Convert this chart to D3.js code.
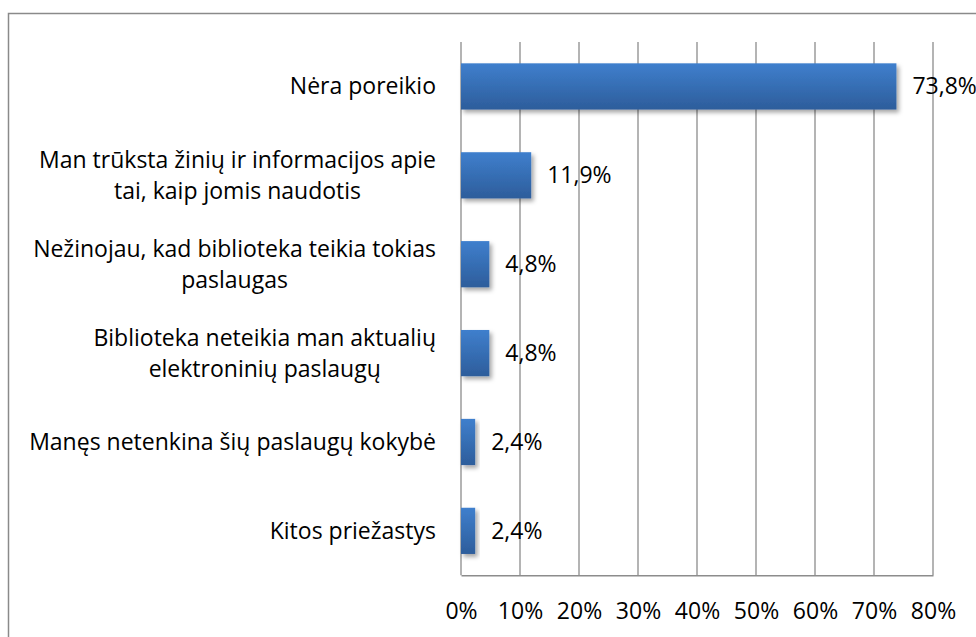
<!DOCTYPE html>
<html>
<head>
<meta charset="utf-8">
<script src="https://d3js.org/d3.v7.min.js"></script>
<style>
  body { margin:0; background:#fff; }
  svg { display:block; }
  text { font-family:"Open Sans", sans-serif; font-size:23px; fill:#000; }
</style>
</head>
<body>
<div id="chart"></div>
<script>
// data, top to bottom
var categories = [
  "Nėra poreikio",
  "Man trūksta žinių ir informacijos apie\ntai, kaip jomis naudotis",
  "Nežinojau, kad biblioteka teikia tokias\npaslaugas",
  "Biblioteka neteikia man aktualių\nelektroninių paslaugų",
  "Manęs netenkina šių paslaugų kokybė",
  "Kitos priežastys"
];
var values = [73.8, 11.9, 4.8, 4.8, 2.4, 2.4];
var ticks = [0, 10, 20, 30, 40, 50, 60, 70, 80];

var width = 976, height = 637;
var plotLeft = 461, plotRight = 933, plotTop = 42, plotBottom = 575.3;

var svg = d3.select("#chart").append("svg")
  .attr("width", width)
  .attr("height", height);

var defs = svg.append("defs");
var grad = defs.append("linearGradient")
  .attr("id", "barGrad")
  .attr("x1", 0).attr("y1", 0).attr("x2", 0).attr("y2", 1);
grad.append("stop").attr("offset", "0%").attr("stop-color", "#3f7fcd");
grad.append("stop").attr("offset", "100%").attr("stop-color", "#2d5d9b");

var shadow = defs.append("filter")
  .attr("id", "shadow")
  .attr("x", "-20%").attr("y", "-20%")
  .attr("width", "150%").attr("height", "150%");
shadow.append("feDropShadow")
  .attr("dx", 2.5).attr("dy", 3)
  .attr("stdDeviation", 2.2)
  .attr("flood-color", "#000")
  .attr("flood-opacity", 0.35);

// outer frame (runs off right and bottom edge)
svg.append("rect")
  .attr("x", 8.5).attr("y", 13.5)
  .attr("width", 1000).attr("height", 700)
  .attr("fill", "none")
  .attr("stroke", "#8a8a8a")
  .attr("stroke-width", 1.5);

var x = d3.scaleLinear().domain([0, 80]).range([plotLeft, plotRight]);
var y = d3.scaleBand().domain(categories)
  .range([plotTop, plotBottom])
  .paddingInner(0.48).paddingOuter(0.24);

// vertical gridlines
svg.append("g").selectAll("line")
  .data(ticks)
  .enter().append("line")
  .attr("x1", function(d) { return x(d); })
  .attr("x2", function(d) { return x(d); })
  .attr("y1", plotTop)
  .attr("y2", plotBottom)
  .attr("stroke", "#8c8c8c")
  .attr("stroke-width", 1.3);

// bottom axis
var xAxis = d3.axisBottom(x)
  .tickValues(ticks)
  .tickSize(0)
  .tickPadding(27)
  .tickFormat(function(d) { return d + "%"; });
var gx = svg.append("g")
  .attr("transform", "translate(0," + plotBottom + ")")
  .call(xAxis);
gx.select(".domain").attr("stroke", "#8c8c8c").attr("stroke-width", 1.5);
gx.selectAll("text")
  .attr("fill", "#000")
  .style("font-family", '"Open Sans", sans-serif')
  .style("font-size", "23px");

// bars
svg.append("g").selectAll("rect")
  .data(values)
  .enter().append("rect")
  .attr("x", x(0))
  .attr("y", function(d, i) { return y(categories[i]); })
  .attr("width", function(d) { return x(d) - x(0); })
  .attr("height", y.bandwidth())
  .attr("fill", "url(#barGrad)")
  .attr("filter", "url(#shadow)");

// value labels
svg.append("g").selectAll("text")
  .data(values)
  .enter().append("text")
  .attr("x", function(d) { return x(d) + 16; })
  .attr("y", function(d, i) { return y(categories[i]) + y.bandwidth() / 2 + 8; })
  .text(function(d) { return d.toFixed(1).replace(".", ",") + "%"; });

// category labels, lines centred in a block that ends at the right edge
var labelRight = 436, lineGap = 31;
categories.forEach(function(c) {
  var lines = c.split("\n");
  var cy = y(c) + y.bandwidth() / 2;
  var t = svg.append("text").attr("text-anchor", "middle");
  lines.forEach(function(l, j) {
    t.append("tspan")
      .attr("x", 0)
      .attr("y", cy + 8 + (j - (lines.length - 1) / 2) * lineGap)
      .text(l);
  });
  var w = t.node().getBBox().width;
  t.selectAll("tspan").attr("x", labelRight - w / 2);
});
</script>
</body>
</html>
